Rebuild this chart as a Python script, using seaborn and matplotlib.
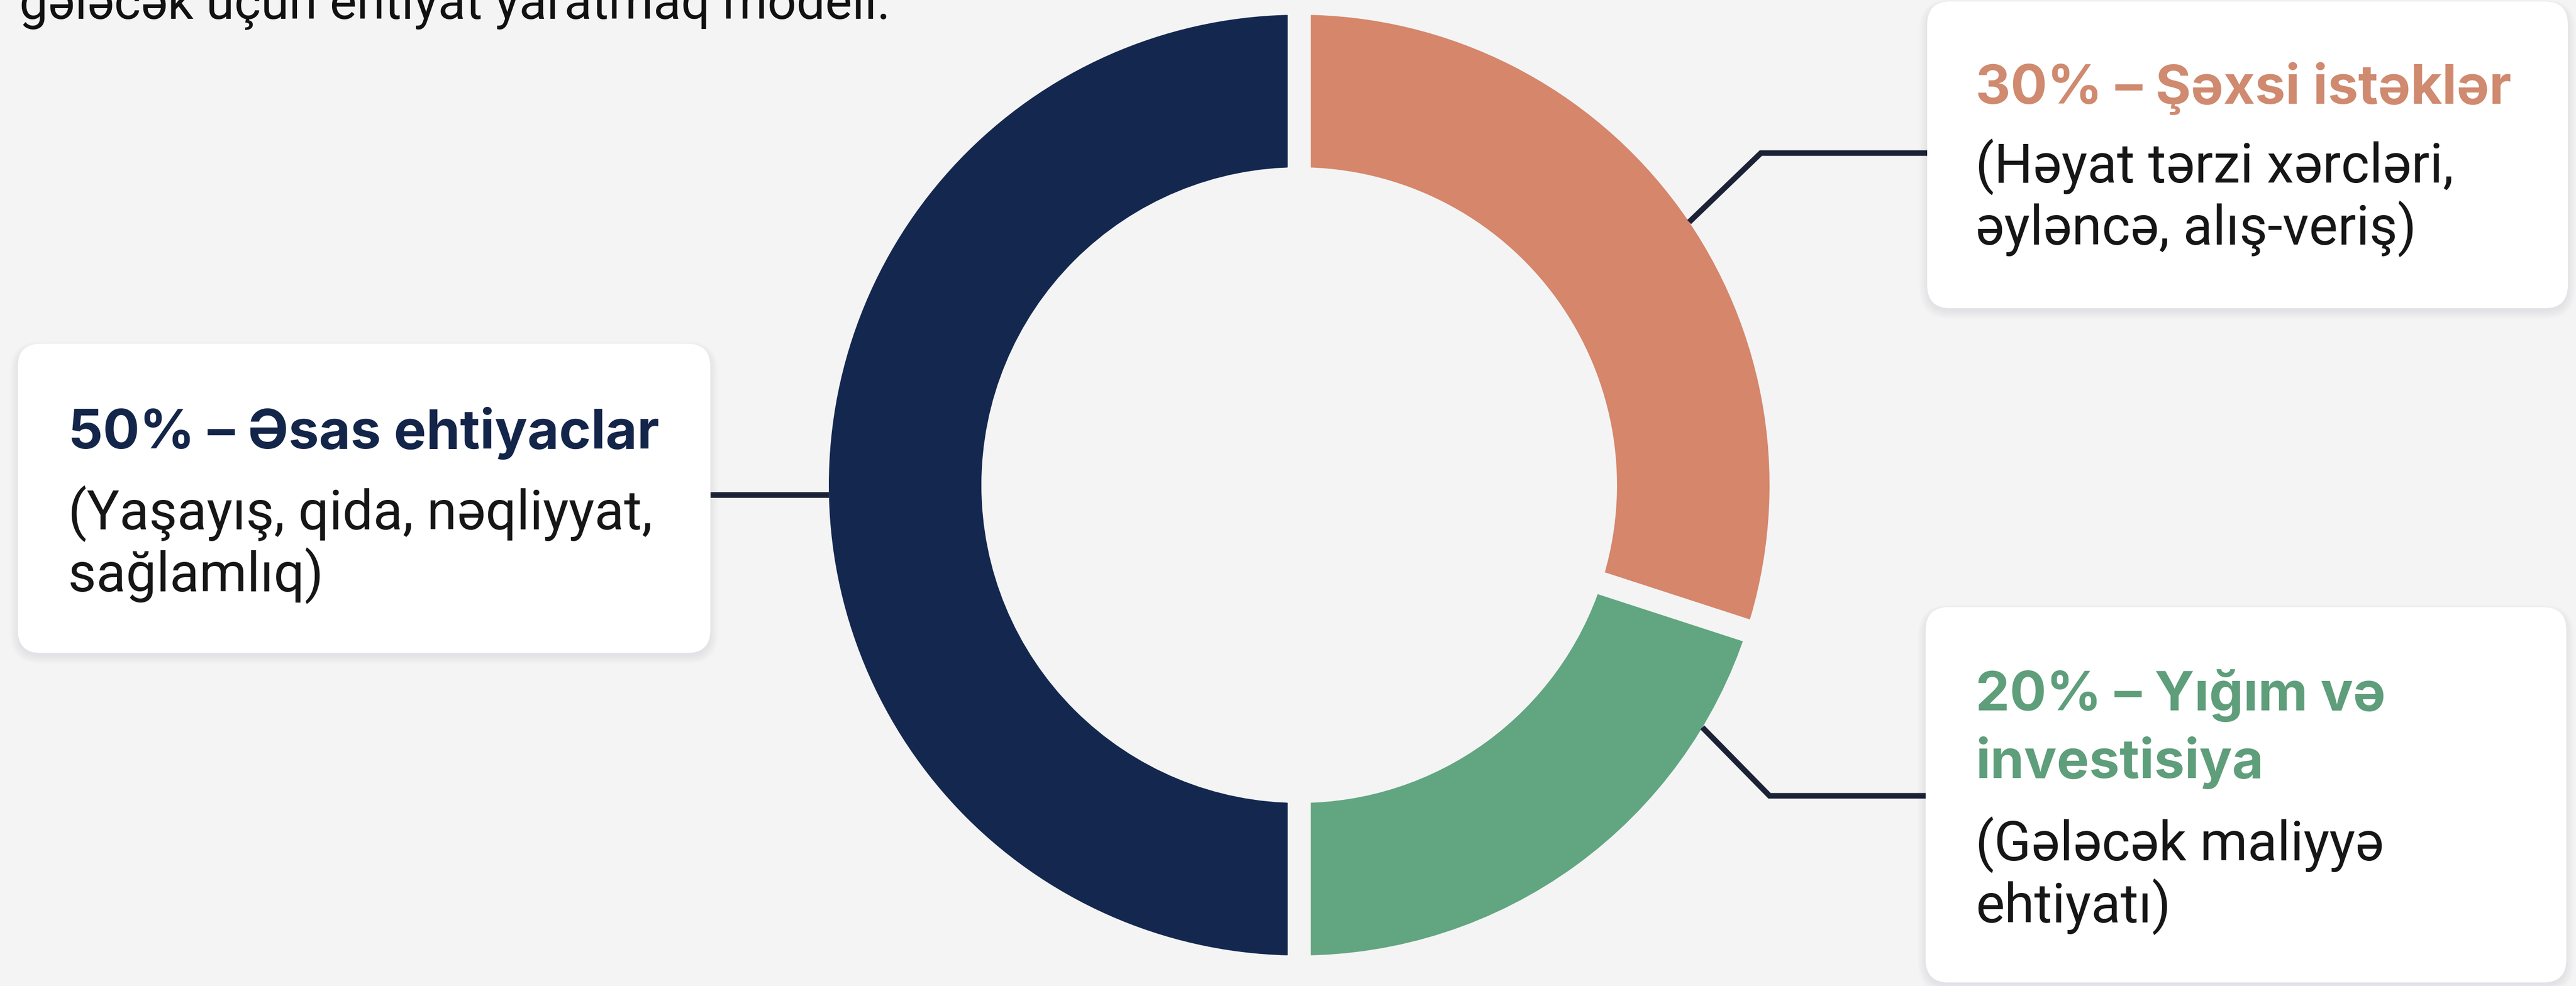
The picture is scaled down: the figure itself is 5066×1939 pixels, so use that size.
import matplotlib
matplotlib.use("Agg")
import numpy as np
import seaborn as sns
import matplotlib.pyplot as plt
from matplotlib.patches import FancyBboxPatch

# Данные: правило 50/30/20
categories = ["Əsas ehtiyaclar", "Şəxsi istəklər", "Yığım və\ninvestisiya"]
shares = [50, 30, 20]
details = [
    "(Yaşayış, qida, nəqliyyat,\nsağlamlıq)",
    "(Həyat tərzi xərcləri,\nəyləncə, alış-veriş)",
    "(Gələcək maliyyə\nehtiyatı)",
]
subtitle = "gələcək üçün ehtiyat yaratmaq modeli."

# Цвета
bg = "#f4f4f5"
ring_colors = sns.color_palette(["#14284f", "#d6866a", "#61a680"])
title_colors = ["#14254a", "#cf8a6f", "#5f9e7b"]
line_color = "#1c2236"

# Размеры холста (пиксели) и геометрия кольца
W, H, DPI = 5066, 1940, 200
cx, cy = 2555, 955
r_out, r_in = 925, 625
gap = 45  # зазор между секторами, px

sns.set_theme(style="white")
plt.rcParams["font.family"] = ["Roboto", "DejaVu Sans"]
head_font = ["Inter", "Roboto", "DejaVu Sans"]

fig = plt.figure(figsize=(W / DPI, H / DPI), dpi=DPI, facecolor=bg)
ax = fig.add_axes([0, 0, 1, 1])
ax.set_facecolor(bg)

# Кольцо: по часовой стрелке от верха -> 30%, 20%, 50%
order = [1, 2, 0]
px2pt = 72 / DPI
ax.pie(
    [shares[i] for i in order],
    colors=[ring_colors[i] for i in order],
    center=(cx, cy),
    radius=r_out + gap / 2,
    startangle=-90,          # ось y перевёрнута, поэтому -90 = верх
    counterclock=True,
    wedgeprops=dict(width=(r_out - r_in) + gap, edgecolor=bg,
                    linewidth=gap * px2pt, joinstyle="miter"),
)

# Ось в координатах пикселей картинки (y вниз)
ax.set_xlim(0, W)
ax.set_ylim(H, 0)
ax.set_aspect("auto")
ax.axis("off")


def ring_point(angle_deg):
    a = np.deg2rad(angle_deg)
    return cx + r_out * np.cos(a), cy - r_out * np.sin(a)


# Карточки с подписями
boxes = [(35, 677, 1397, 1285), (3790, 4, 5050, 607), (3787, 1195, 5047, 1933)]
text_x = [134, 3885, 3885]
title_base = [882, 204, 1397]
body_base = [1041, 359, 1692]
fs = 38.5

for i, (x0, y0, x1, y1) in enumerate(boxes):
    # мягкая тень
    for k in range(6):
        sh = FancyBboxPatch((x0 - k * 3, y0 + 6 - k * 2), x1 - x0 + k * 6, y1 - y0 + k * 5,
                            boxstyle="round,pad=0,rounding_size=%d" % (45 + k * 3),
                            facecolor="#8a9099", edgecolor="none", alpha=0.022, zorder=2)
        ax.add_patch(sh)
    card = FancyBboxPatch((x0, y0), x1 - x0, y1 - y0,
                          boxstyle="round,pad=0,rounding_size=45",
                          facecolor="white", edgecolor="none", zorder=3)
    ax.add_patch(card)

    head = f"{shares[i]}% – {categories[i]}".split("\n")
    for j, line in enumerate(head):
        ax.text(text_x[i], title_base[i] + j * 133, line, fontsize=fs, fontweight="bold",
                family=head_font, color=title_colors[i], ha="left", va="baseline", zorder=4)
    for j, line in enumerate(details[i].split("\n")):
        ax.text(text_x[i], body_base[i] + j * 122, line, fontsize=fs,
                color="#161616", ha="left", va="baseline", zorder=4)

# Линии-выноски
lw = 11 * px2pt
p = ring_point(181.2)
ax.plot([1397, p[0]], [p[1], p[1]], color=line_color, lw=lw, solid_capstyle="butt", zorder=5)
p = ring_point(34)
ax.plot([p[0], 3463, 3790], [p[1], 302, 302], color=line_color, lw=lw,
        solid_capstyle="butt", solid_joinstyle="miter", zorder=5)
p = ring_point(-31)
ax.plot([p[0], 3480, 3787], [p[1], 1566, 1566], color=line_color, lw=lw,
        solid_capstyle="butt", solid_joinstyle="miter", zorder=5)

# Обрезанная строка подзаголовка сверху
ax.text(38, 37, subtitle, fontsize=36.1, color="#111111", ha="left", va="baseline", zorder=4)

fig.savefig("out.png", dpi=DPI, facecolor=bg)
